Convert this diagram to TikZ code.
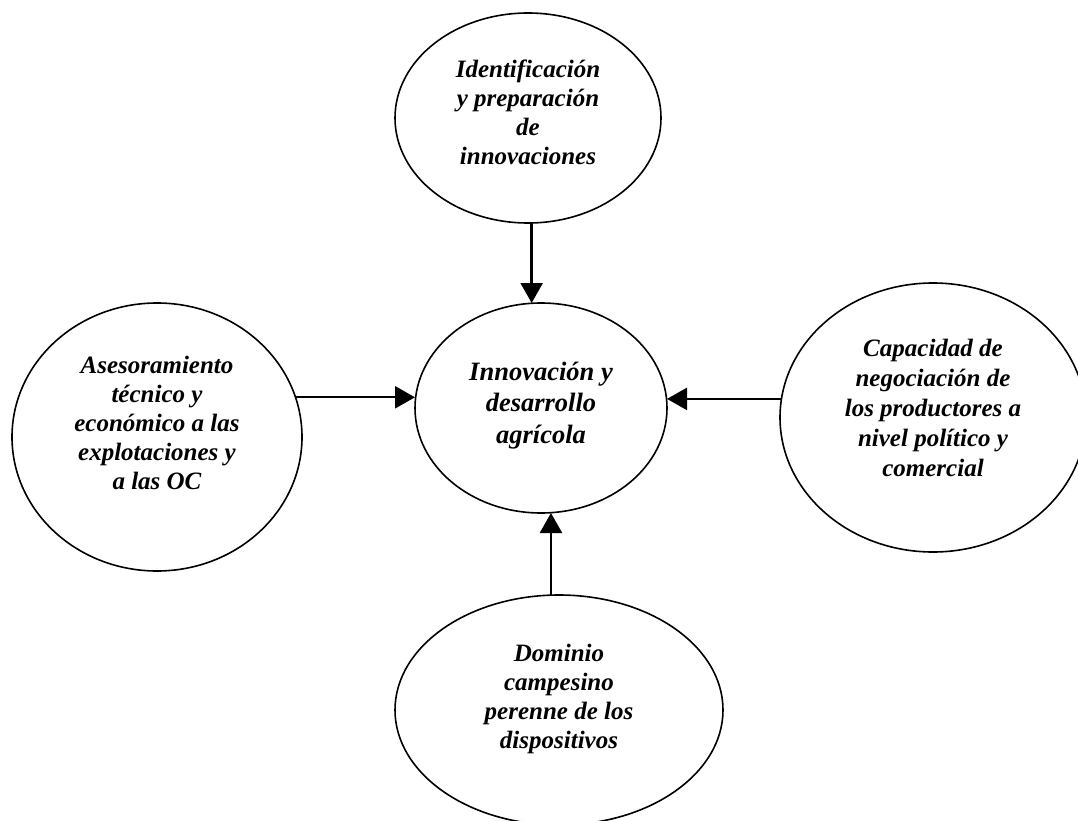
\documentclass[tikz,border=0pt]{standalone}
\usepackage{fontspec}
\setmainfont{Liberation Serif}
\usetikzlibrary{shapes.geometric,arrows.meta}

\begin{document}
\begin{tikzpicture}[x=1pt,y=-1pt,
    burbuja/.style={draw,ellipse,line width=1.6pt,inner sep=0pt,outer sep=0pt},
    texto/.style={align=center,font=\fontsize{25}{29}\selectfont\bfseries\itshape},
    flecha/.style={line width=2.4pt,-{Triangle[length=20pt,width=22pt]}}]
  \useasboundingbox (0,0) rectangle (1078,821);
  \clip (0,0) rectangle (1078,821);
  % ellipses
  \node[burbuja,minimum width=252pt,minimum height=210pt] (centro) at (541,408) {};
  \node[burbuja,minimum width=266pt,minimum height=210pt] (arriba) at (528,118) {};
  \node[burbuja,minimum width=290pt,minimum height=268pt] (izq) at (157,437) {};
  \node[burbuja,minimum width=306pt,minimum height=269pt] (der) at (933,417.5) {};
  \node[burbuja,minimum width=328pt,minimum height=230pt] (abajo) at (559,710) {};
  % texts
  \node[texto,font=\fontsize{26.5}{31.5}\selectfont\bfseries\itshape] (centro-t)
    at ([yshift=2.5pt]centro.center) {Innovación y\\desarrollo\\agrícola};
  \node[texto] (arriba-t) at ([yshift=6pt]arriba.center)
    {Identificación\\y preparación\\de\\innovaciones};
  \node[texto] (izq-t) at ([yshift=14.5pt]izq.center)
    {Asesoramiento\\técnico y\\económico a las\\explotaciones y\\a las OC};
  \node[texto,font=\fontsize{25}{30}\selectfont\bfseries\itshape] (der-t)
    at ([yshift=9.5pt]der.center)
    {Capacidad de\\negociación de\\los productores a\\nivel político y\\comercial};
  \node[texto] (abajo-t) at ([yshift=11pt]abajo.center)
    {Dominio\\campesino\\perenne de los\\dispositivos};
  % arrows
  \draw[flecha] (arriba.272) -- (arriba.272 |- centro.north);
  \draw[flecha] (izq.16) -- (izq.16 -| centro.west);
  \draw[flecha] (der.173) -- (der.173 -| centro.east);
  \draw[flecha] (abajo.94) -- (abajo.94 |- centro.south);
\end{tikzpicture}
\end{document}
